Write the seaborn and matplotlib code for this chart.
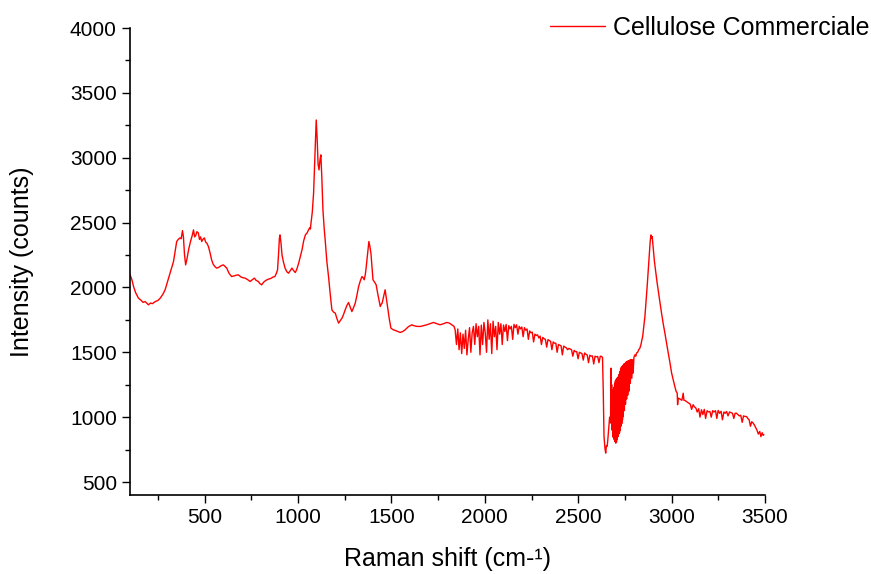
import matplotlib
matplotlib.use("Agg")
import matplotlib.pyplot as plt
from matplotlib.ticker import MultipleLocator
import seaborn as sns
import pandas as pd

# Raman shift (cm-1) and intensity (counts)
shift_smooth = [100, 110, 119, 130, 145, 160, 170, 181, 190, 199, 210, 220, 235, 250, 262, 275, 288, 300, 315, 325,
                333, 342, 350, 358, 368, 374, 381, 386, 392, 398, 405, 415, 425, 433, 440, 446, 452, 458, 466, 472,
                478, 484, 490, 498, 505, 512, 520, 528, 537, 545, 555, 564, 575, 585, 592, 600, 610, 618, 630, 644,
                660, 670, 680, 695, 705, 716, 730, 743, 755, 766, 775, 787, 795, 805, 815, 828, 841, 855, 865, 876,
                884, 890, 895, 900, 903, 908, 914, 921, 930, 940, 949, 958, 967, 976, 985, 993, 1003, 1012, 1021, 1030,
                1039, 1048, 1056, 1062, 1066, 1069, 1076, 1083, 1090, 1097, 1102, 1107, 1112, 1117, 1122, 1127, 1133, 1140, 1145, 1154,
                1163, 1172, 1181, 1190, 1199, 1208, 1217, 1226, 1235, 1243, 1252, 1261, 1270, 1279, 1288, 1297, 1306, 1315, 1324, 1333,
                1342, 1348, 1354, 1360, 1365, 1372, 1379, 1384, 1390, 1396, 1401, 1410, 1418, 1428, 1440, 1445, 1450, 1458, 1466, 1472,
                1479, 1488, 1497, 1508, 1520, 1533, 1547, 1560, 1573, 1582, 1592, 1600, 1609, 1620, 1635, 1654, 1670, 1689, 1705, 1725,
                1740, 1760, 1778, 1796, 1810, 1823, 1835, 1841]
counts_smooth = [2100, 2060, 2007, 1960, 1918, 1900, 1885, 1891, 1878, 1866, 1880, 1875, 1891, 1900, 1918, 1945, 1982, 2040, 2110, 2160,
                 2200, 2280, 2354, 2370, 2382, 2375, 2438, 2390, 2250, 2174, 2220, 2300, 2360, 2400, 2444, 2390, 2400, 2430, 2420, 2370,
                 2390, 2354, 2370, 2382, 2350, 2340, 2315, 2270, 2213, 2180, 2160, 2149, 2155, 2165, 2170, 2174, 2160, 2149, 2110, 2084,
                 2090, 2095, 2097, 2080, 2075, 2072, 2060, 2046, 2060, 2072, 2055, 2046, 2030, 2020, 2040, 2055, 2064, 2070, 2080, 2084,
                 2110, 2136, 2250, 2380, 2405, 2350, 2250, 2200, 2150, 2120, 2110, 2130, 2149, 2130, 2115, 2140, 2187, 2240, 2290, 2360,
                 2405, 2420, 2444, 2460, 2450, 2495, 2580, 2727, 3000, 3291, 3150, 2950, 2906, 2980, 3022, 2850, 2598, 2450, 2367, 2200,
                 2084, 1950, 1827, 1810, 1802, 1760, 1725, 1745, 1763, 1790, 1827, 1860, 1884, 1850, 1814, 1845, 1879, 1940, 2007, 2050,
                 2084, 2075, 2059, 2100, 2161, 2260, 2354, 2320, 2264, 2150, 2059, 2040, 2020, 1940, 1853, 1870, 1879, 1930, 1982, 1920,
                 1853, 1760, 1686, 1675, 1668, 1660, 1653, 1660, 1673, 1686, 1699, 1705, 1712, 1705, 1700, 1699, 1705, 1712, 1720, 1730,
                 1722, 1712, 1720, 1730, 1725, 1712, 1700, 1673]

shift_noisy = [1848, 1855, 1862, 1869, 1876, 1883, 1890, 1897, 1904, 1911, 1918, 1925, 1932, 1939, 1946, 1953, 1960, 1967, 1974, 1981,
               1988, 1995, 2002, 2009, 2016, 2023, 2030, 2037, 2044, 2051, 2058, 2065, 2072, 2079, 2086, 2093, 2100, 2107, 2114, 2121,
               2128, 2135, 2142, 2149, 2156, 2163, 2170, 2177, 2184, 2191, 2198, 2205, 2212, 2219, 2226, 2233, 2240, 2247, 2254, 2261,
               2268, 2275, 2282, 2289, 2296, 2303, 2310, 2317, 2324, 2331, 2338, 2345, 2352, 2359, 2366, 2373, 2380, 2387, 2394, 2401,
               2408, 2415, 2422, 2429, 2436, 2443, 2450, 2457, 2464, 2471, 2478, 2485, 2492, 2499, 2506, 2513, 2520, 2527, 2534, 2541,
               2548, 2555, 2562, 2569, 2576, 2583, 2590, 2597, 2604, 2611, 2618, 2625, 2630]
counts_noisy = [1560, 1680, 1520, 1650, 1490, 1640, 1530, 1670, 1480, 1600, 1690, 1500, 1650, 1700, 1560, 1720, 1620, 1700, 1480, 1710,
                1560, 1730, 1650, 1500, 1750, 1600, 1720, 1490, 1740, 1620, 1700, 1520, 1730, 1640, 1720, 1560, 1710, 1660, 1715, 1590,
                1705, 1680, 1700, 1600, 1715, 1690, 1712, 1640, 1700, 1680, 1695, 1620, 1690, 1670, 1680, 1600, 1665, 1650, 1655, 1580,
                1640, 1630, 1635, 1610, 1625, 1560, 1615, 1605, 1600, 1540, 1598, 1590, 1585, 1520, 1580, 1570, 1570, 1500, 1560, 1555,
                1550, 1480, 1548, 1540, 1535, 1520, 1530, 1525, 1520, 1470, 1515, 1505, 1505, 1450, 1500, 1495, 1490, 1440, 1495, 1485,
                1480, 1420, 1478, 1470, 1472, 1410, 1470, 1465, 1468, 1420, 1470, 1468, 1460]

shift_dip = [2634, 2638, 2643, 2647, 2651, 2655, 2658, 2661, 2665, 2668, 2670, 2673, 2675, 2677, 2679, 2681, 2683, 2685, 2687, 2689,
             2691, 2693, 2695, 2697, 2699, 2701, 2703, 2705, 2707, 2709, 2711, 2713, 2715, 2717, 2719, 2721, 2723, 2725, 2727, 2729,
             2731, 2733, 2735, 2737, 2739, 2741, 2744, 2747, 2750, 2753, 2756, 2759, 2762, 2765, 2768, 2771, 2775, 2779, 2783, 2787,
             2791, 2794, 2798, 2803, 2808, 2812, 2818, 2824, 2830, 2836, 2840, 2845, 2851, 2857, 2863, 2869, 2875, 2880, 2885, 2889,
             2893, 2896, 2901, 2908, 2916, 2922, 2928, 2937, 2946, 2955, 2964, 2973, 2982, 2991, 3000, 3008, 3017, 3024, 3030, 3032]
counts_dip = [1200, 851, 760, 723, 780, 775, 820, 877, 950, 1000, 980, 955, 1378, 1000, 1250, 900, 1200, 850, 1211, 840,
              1230, 826, 1260, 810, 1280, 800, 1290, 810, 1300, 830, 1305, 850, 1313, 870, 1330, 880, 1350, 900, 1370, 930,
              1385, 950, 1390, 980, 1400, 1005, 1410, 1050, 1415, 1100, 1425, 1140, 1430, 1170, 1435, 1200, 1440, 1260, 1445, 1300,
              1442, 1340, 1460, 1480, 1470, 1494, 1500, 1520, 1532, 1560, 1590, 1622, 1700, 1776, 1890, 2007, 2140, 2264, 2350, 2405,
              2380, 2392, 2315, 2200, 2110, 2040, 1982, 1890, 1802, 1720, 1648, 1570, 1494, 1420, 1340, 1290, 1237, 1200, 1185, 1096]

shift_tail = [3035, 3045, 3055, 3062, 3066, 3071, 3080, 3090, 3100, 3107, 3115, 3122, 3130, 3137, 3145, 3152, 3160, 3167, 3175, 3182,
              3190, 3197, 3205, 3212, 3220, 3227, 3235, 3242, 3249, 3257, 3265, 3272, 3280, 3287, 3294, 3302, 3310, 3318, 3326, 3333,
              3340, 3347, 3355, 3362, 3370, 3378, 3385, 3393, 3401, 3408, 3415, 3422, 3429, 3436, 3443, 3450, 3457, 3464, 3472, 3478,
              3485, 3490, 3494]
counts_tail = [1147, 1140, 1130, 1185, 1130, 1129, 1120, 1110, 1100, 1060, 1096, 1080, 1070, 1040, 1065, 1000, 1057, 1020, 1060, 990,
               1050, 1040, 1044, 1000, 1050, 1040, 1050, 990, 1052, 1030, 1045, 980, 1040, 1030, 1044, 1010, 1040, 1035, 1030, 990,
               1030, 1031, 1020, 1010, 1015, 960, 1010, 1005, 1005, 990, 980, 930, 965, 955, 940, 920, 900, 870, 890, 850,
               880, 860, 864]

series_label = "Cellulose Commerciale"
x_ticks = [500, 1000, 1500, 2000, 2500, 3000, 3500]
y_ticks = [500, 1000, 1500, 2000, 2500, 3000, 3500, 4000]

df = pd.DataFrame({
    "shift": shift_smooth + shift_noisy + shift_dip + shift_tail,
    "counts": counts_smooth + counts_noisy + counts_dip + counts_tail,
})

sns.set_style("ticks")
plt.rcParams["font.family"] = ["Liberation Sans", "DejaVu Sans"]
plt.rcParams["text.color"] = "black"
plt.rcParams["axes.labelcolor"] = "black"

fig = plt.figure(figsize=(8.71, 5.74), dpi=100)
ax = fig.add_axes([130 / 871, 1 - 495 / 574, (765 - 130) / 871, (495 - 28) / 574])

sns.lineplot(data=df, x="shift", y="counts", ax=ax, color="#ff0000", linewidth=1.0,
             estimator=None, sort=False, label=series_label)

ax.set_xlim(100, 3500)
ax.set_ylim(400, 4000)
ax.set_xticks(x_ticks)
ax.set_yticks(y_ticks)
ax.xaxis.set_minor_locator(MultipleLocator(250))
ax.yaxis.set_minor_locator(MultipleLocator(250))
ax.tick_params(which="major", direction="out", length=6, width=1.0, labelsize=15, colors="black")
ax.tick_params(which="minor", direction="out", length=3.5, width=1.0, colors="black")
for s in ["top", "right"]:
    ax.spines[s].set_visible(False)
for s in ["left", "bottom"]:
    ax.spines[s].set_linewidth(1.2)
    ax.spines[s].set_color("black")

ax.set_xlabel("Raman shift (cm-¹)", fontsize=18, labelpad=14, color="black")
ax.set_ylabel("Intensity (counts)", fontsize=18, labelpad=26, color="black")

leg = ax.legend(loc="upper right", bbox_to_anchor=(0.998, 0.972), bbox_transform=fig.transFigure,
                frameon=False, fontsize=18, handlelength=2.2, handletextpad=0.3,
                borderpad=0, borderaxespad=0)
for t in leg.get_texts():
    t.set_color("black")

fig.savefig("out.png", dpi=100)
